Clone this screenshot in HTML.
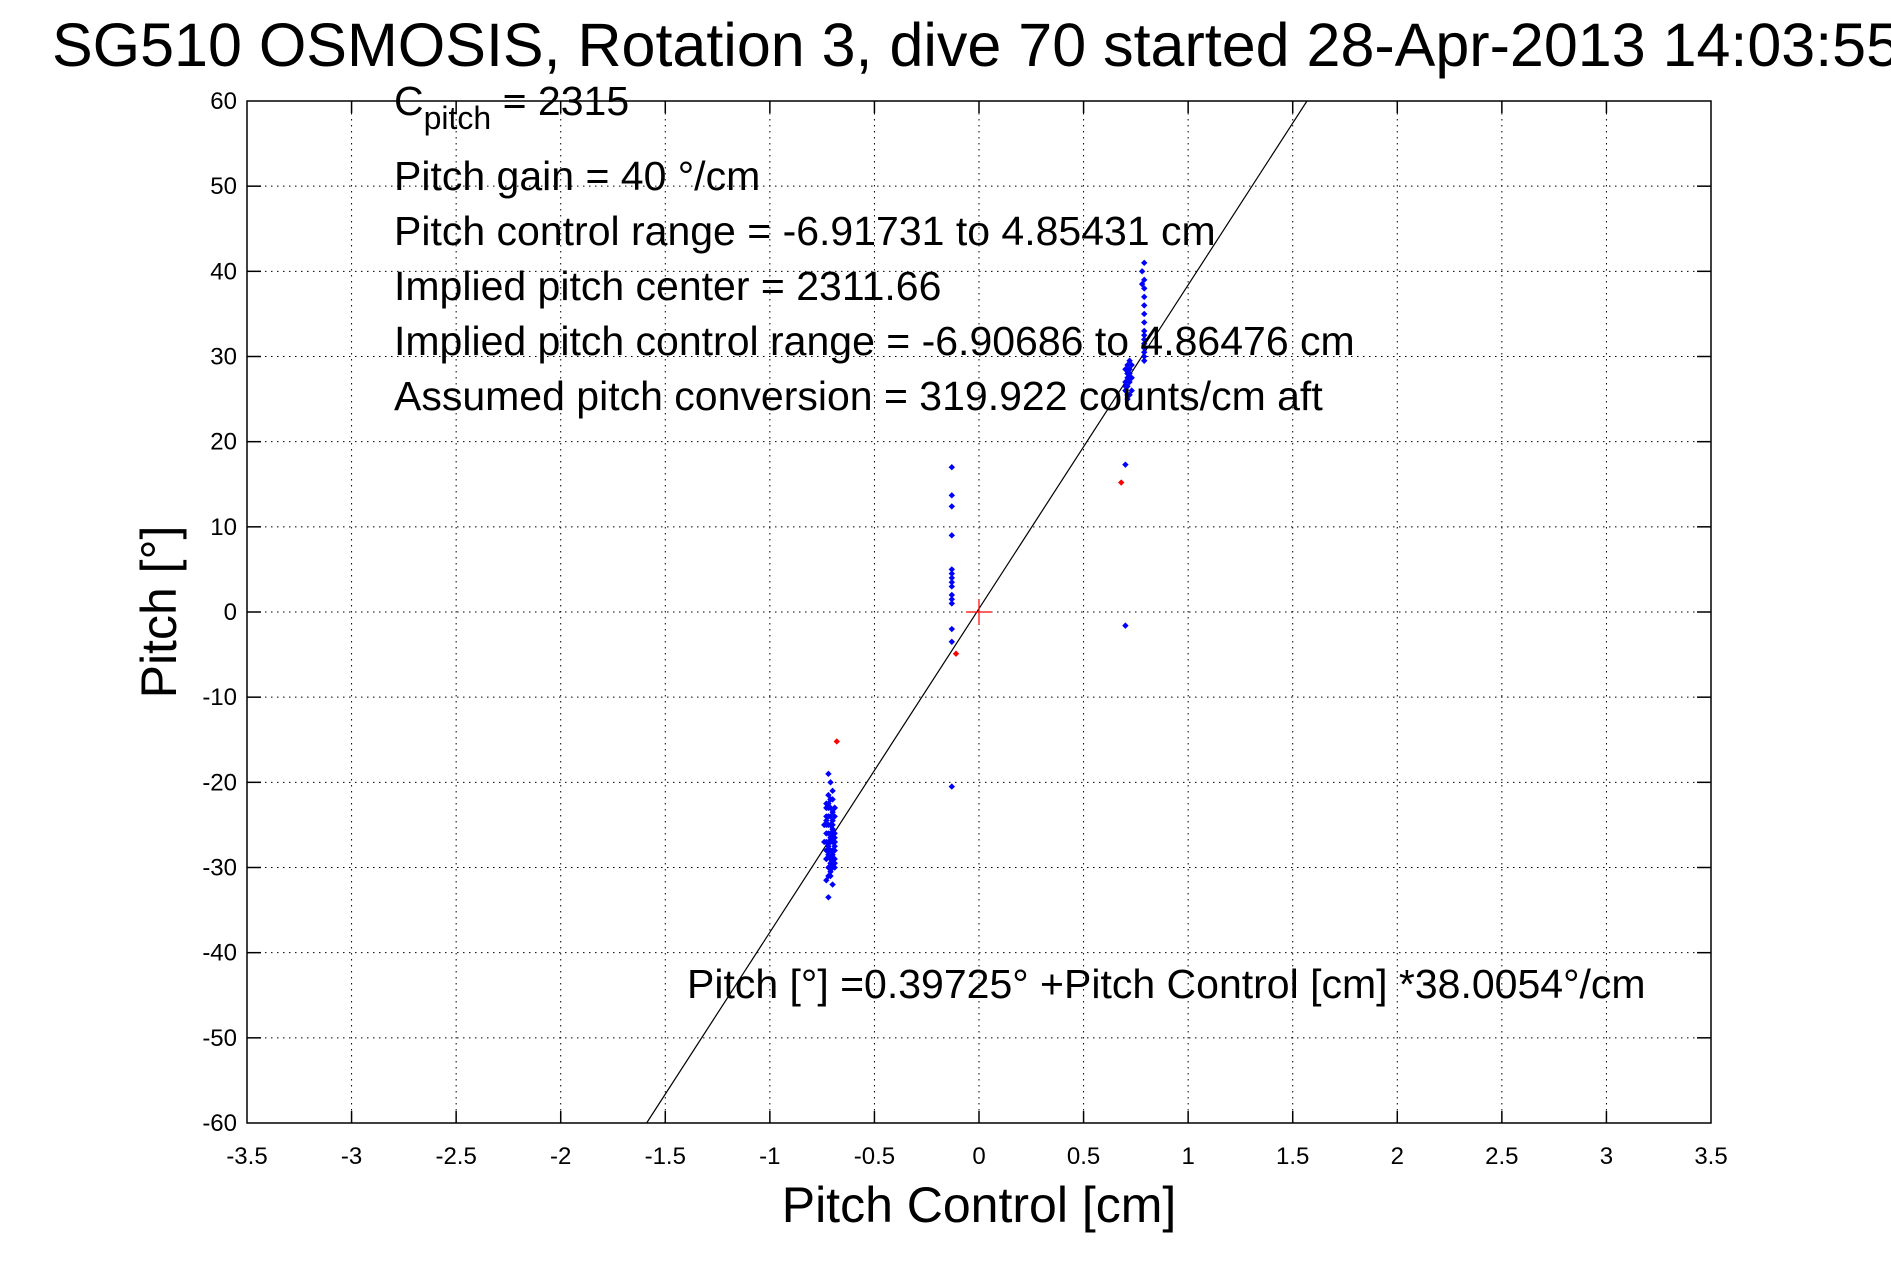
<!DOCTYPE html>
<html><head><meta charset="utf-8"><style>
html,body{margin:0;padding:0;background:#fff;}
svg{display:block;font-family:"Liberation Sans","DejaVu Sans",sans-serif;}
</style></head><body>
<svg id="chart" width="1891" height="1262" viewBox="0 0 1891 1262" xmlns="http://www.w3.org/2000/svg">
<rect width="1891" height="1262" fill="#fff"/>
<text x="52" y="66" font-size="61">SG510 OSMOSIS, Rotation 3, dive 70 started 28-Apr-2013 14:03:55</text>
<g id="grid"></g>
<g id="ticks"></g>
<g id="marks"></g>
<rect x="247" y="101" width="1464" height="1022" fill="none" stroke="#000" stroke-width="1.5"/>
<text transform="translate(176,612) rotate(-90)" text-anchor="middle" font-size="50">Pitch [°]</text>
<text x="979" y="1222" text-anchor="middle" font-size="50">Pitch Control [cm]</text>
<g font-size="41">
<text x="394" y="115">C<tspan font-size="32" dy="14">pitch</tspan><tspan dy="-14"> = 2315</tspan></text>
<text x="394" y="190">Pitch gain = 40 °/cm</text>
<text x="394" y="245">Pitch control range = -6.91731 to 4.85431 cm</text>
<text x="394" y="300">Implied pitch center = 2311.66</text>
<text x="394" y="355">Implied pitch control range = -6.90686 to 4.86476 cm</text>
<text x="394" y="410">Assumed pitch conversion = 319.922 counts/cm aft</text>
<text x="687" y="998">Pitch [°] =0.39725° +Pitch Control [cm] *38.0054°/cm</text>
</g>
</svg>
<script>
const xTicks=[-3.5,-3,-2.5,-2,-1.5,-1,-0.5,0,0.5,1,1.5,2,2.5,3,3.5];
const yTicks=[60,50,40,30,20,10,0,-10,-20,-30,-40,-50,-60];
const fitIntercept=0.39725;
const fitSlope=38.0054;
const blueX=[-0.72,-0.71,-0.72,-0.7,-0.73,-0.71,-0.7,-0.72,-0.69,-0.73,-0.71,-0.7,-0.72,-0.7,-0.71,-0.73,-0.69,-0.72,-0.7,-0.71,-0.72,-0.7,-0.73,-0.69,-0.71,-0.72,-0.7,-0.71,-0.73,-0.7,-0.72,-0.69,-0.71,-0.7,-0.72,-0.71,-0.7,-0.73,-0.72,-0.7,-0.71,-0.69,-0.72,-0.7,-0.71,-0.72,-0.73,-0.7,-0.71,-0.69,-0.72,-0.71,-0.7,-0.71,-0.72,-0.7,
-0.69,-0.69,-0.69,-0.69,-0.7,-0.7,-0.73,-0.73,-0.73,-0.74,-0.74,-0.71,-0.72,-0.69,-0.7,-0.71,-0.72,-0.69,-0.73,-0.7,
-0.13,-0.13,-0.13,-0.13,-0.13,-0.13,-0.13,-0.13,-0.13,-0.13,-0.13,-0.13,-0.13,-0.13,-0.13,
0.79,0.79,0.79,0.79,0.79,0.79,0.79,0.79,0.79,0.79,0.79,0.79,0.79,0.79,0.79,0.78,0.78,
0.71,0.72,0.7,0.73,0.71,0.72,0.7,0.71,0.73,0.72,0.71,0.7,0.72,0.71,0.73,0.72,0.71,0.7,0.72,0.71,0.7,0.7];
const blueY=[-19,-20,-21.5,-22,-22.5,-23,-23.5,-24,-24,-24.5,-25,-25.5,-25,-26,-26.5,-27,-26.5,-27.5,-27,-28,-28.5,-28.5,-29,-29,-29.5,-30,-30,-31,-31.5,-32,-33.5,-23,-22,-25,-26,-27,-28,-29,-24,-25.5,-26,-27.5,-28,-29,-30.5,-22.5,-25,-26,-24,-27,-28,-29,-30,-22,-23,-21,
-26,-27,-28,-29.5,-26.5,-28,-24,-26,-28,-25,-27,-29,-27,-23,-24.5,-25,-31,-30,-23,-29,
17,13.7,12.4,9,5,4.5,4,3.5,3,2,1.5,1,-2,-3.5,-20.5,
41,39,38,37,36,35,34,33,32.5,32,31.5,31,30.5,30,29.5,40,38.5,
25,25.5,26,26,26.5,27,27,27.5,27.5,28,28,28.5,28.5,29,29,29.5,25.5,26.5,27.5,28,17.3,-1.6];
const redX=[-0.68,-0.11,0.68];
const redY=[-15.2,-4.9,15.2];

const L=247,R=1711,T=101,B=1123;
const xs=v=>L+(v+3.5)/7*(R-L);
const ys=v=>T+(60-v)/120*(B-T);
const NS='http://www.w3.org/2000/svg';
function mk(tag,parent){const e=document.createElementNS(NS,tag);parent.appendChild(e);return e;}
const grid=document.getElementById('grid'),ticks=document.getElementById('ticks'),marks=document.getElementById('marks');
xTicks.forEach(v=>{const x=xs(v);
 if(v>-3.5&&v<3.5){const g=mk('line',grid);
 
 
 g.setAttribute('x1',x);g.setAttribute('x2',x);g.setAttribute('y1',T);g.setAttribute('y2',B);
 g.setAttribute('stroke','#000');g.setAttribute('stroke-width','1');g.setAttribute('stroke-dasharray','1.5 4.5');
 [[B,B-12],[T,T+12]].forEach(p=>{const t=mk('line',ticks);
 
 
 t.setAttribute('x1',x);t.setAttribute('x2',x);t.setAttribute('y1',p[0]);t.setAttribute('y2',p[1]);t.setAttribute('stroke','#000');t.setAttribute('stroke-width','1.5');});}
 const tx=mk('text',ticks);
 
 
 tx.setAttribute('x',x);tx.setAttribute('y',B+41);tx.setAttribute('text-anchor','middle');tx.setAttribute('font-size','24');tx.textContent=v;});
yTicks.forEach(v=>{const y=ys(v);
 if(v>-60&&v<60){const g=mk('line',grid);
 
 
 g.setAttribute('x1',L);g.setAttribute('x2',R);g.setAttribute('y1',y);g.setAttribute('y2',y);
 g.setAttribute('stroke','#000');g.setAttribute('stroke-width','1');g.setAttribute('stroke-dasharray','1.5 4.5');
 [[L,L+14],[R,R-14]].forEach(p=>{const t=mk('line',ticks);
 
 
 t.setAttribute('x1',p[0]);t.setAttribute('x2',p[1]);t.setAttribute('y1',y);t.setAttribute('y2',y);t.setAttribute('stroke','#000');t.setAttribute('stroke-width','1.5');});}
 const tx=mk('text',ticks);
 
 
 tx.setAttribute('x',L-10);tx.setAttribute('y',y+8);tx.setAttribute('text-anchor','end');tx.setAttribute('font-size','24');tx.textContent=v;});
let x1=(-60-fitIntercept)/fitSlope,x2=(60-fitIntercept)/fitSlope;
x1=Math.max(-3.5,x1);x2=Math.min(3.5,x2);
const fl=mk('line',marks);


fl.setAttribute('x1',xs(x1));fl.setAttribute('y1',ys(fitIntercept+fitSlope*x1));
fl.setAttribute('x2',xs(x2));fl.setAttribute('y2',ys(fitIntercept+fitSlope*x2));
fl.setAttribute('stroke','#000');fl.setAttribute('stroke-width','1.2');
function dot(x,y,c,name){const px=xs(x),py=ys(y),r=3.2;const p=mk('polygon',marks);
 
 
 p.setAttribute('points',`${px},${py-r} ${px+r},${py} ${px},${py+r} ${px-r},${py}`);p.setAttribute('fill',c);}
blueX.forEach((x,i)=>dot(x,blueY[i],'#0000ff','blue-point'));
redX.forEach((x,i)=>dot(x,redY[i],'#ff0000','red-point'));
[[xs(0)-13,ys(0),xs(0)+13,ys(0)],[xs(0),ys(0)-13,xs(0),ys(0)+13]].forEach(c=>{const l=mk('line',marks);
 
 
 l.setAttribute('x1',c[0]);l.setAttribute('y1',c[1]);l.setAttribute('x2',c[2]);l.setAttribute('y2',c[3]);l.setAttribute('stroke','#ff0000');l.setAttribute('stroke-width','1.2');});
</script>
</body></html>
